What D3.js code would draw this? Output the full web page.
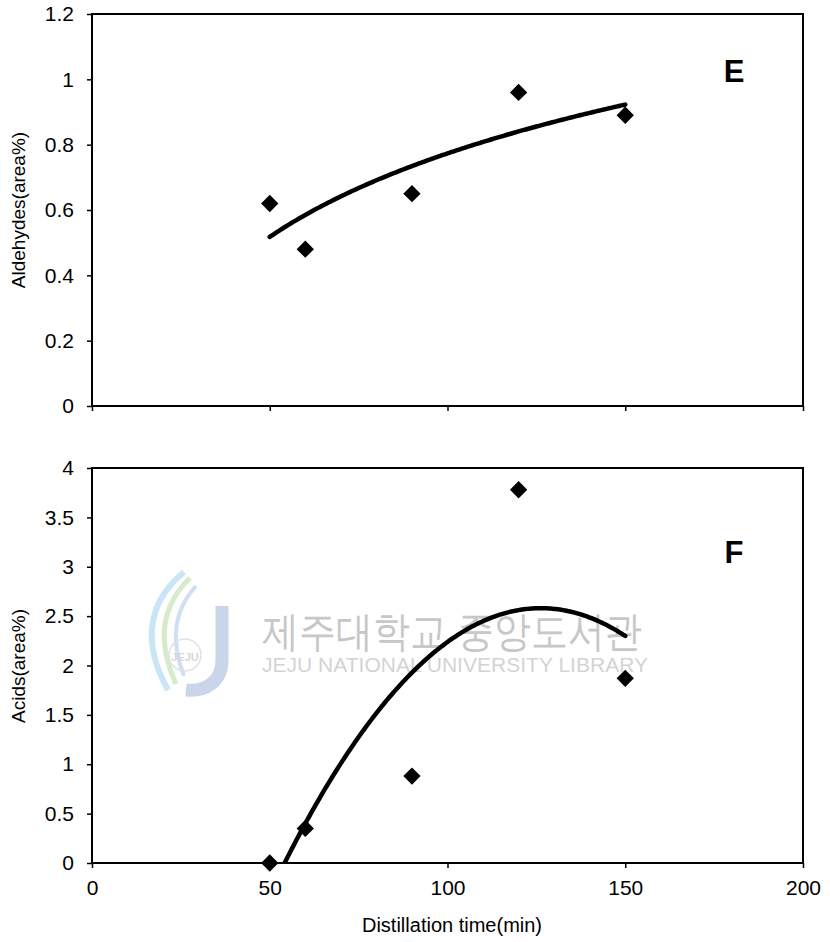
<!DOCTYPE html>
<html><head><meta charset="utf-8">
<script src="https://cdn.jsdelivr.net/npm/d3@7"></script>
<style>
html,body{margin:0;padding:0;background:#fff;}
svg text{font-family:"Liberation Sans",Arial,sans-serif;fill:#000;}
</style></head>
<body>
<svg id="chart" width="830" height="942"></svg>
<script>
// ---------- data ----------
const distillationTime = [50, 60, 90, 120, 150];
const aldehydes = [0.62, 0.48, 0.65, 0.96, 0.89];
const acids = [0.0, 0.35, 0.88, 3.78, 1.87];
const xTicks = [0, 50, 100, 150, 200];
const xTickLabels = ["0", "50", "100", "150", "200"];
const aldTicks = [0, 0.2, 0.4, 0.6, 0.8, 1.0, 1.2];
const aldTickLabels = ["0", "0.2", "0.4", "0.6", "0.8", "1", "1.2"];
const acidTicks = [0, 0.5, 1, 1.5, 2, 2.5, 3, 3.5, 4];
const acidTickLabels = ["0", "0.5", "1", "1.5", "2", "2.5", "3", "3.5", "4"];

// ---------- fits (least squares on the data) ----------
function logFit(xs, ys){
  const lx = xs.map(Math.log), n = xs.length;
  const mx = d3.mean(lx), my = d3.mean(ys);
  let sxy = 0, sxx = 0;
  lx.forEach((v,i)=>{ sxy += (v-mx)*(ys[i]-my); sxx += (v-mx)*(v-mx); });
  const a = sxy/sxx, b = my - a*mx;
  return x => a*Math.log(x) + b;
}
function quadFit(xs, ys){
  const n = xs.length;
  let S = [0,0,0,0,0], T = [0,0,0];
  xs.forEach((x,i)=>{ for(let k=0;k<5;k++) S[k]+=Math.pow(x,k); for(let k=0;k<3;k++) T[k]+=Math.pow(x,k)*ys[i]; });
  const M = [[S[0],S[1],S[2],T[0]],[S[1],S[2],S[3],T[1]],[S[2],S[3],S[4],T[2]]];
  for(let c=0;c<3;c++){
    for(let r=c+1;r<3;r++){ const f=M[r][c]/M[c][c]; for(let k=c;k<4;k++) M[r][k]-=f*M[c][k]; }
  }
  const coef=[0,0,0];
  for(let r=2;r>=0;r--){ let s=M[r][3]; for(let k=r+1;k<3;k++) s-=M[r][k]*coef[k]; coef[r]=s/M[r][r]; }
  return x => coef[0] + coef[1]*x + coef[2]*x*x;
}

const svg = d3.select("#chart");
const x = d3.scaleLinear().domain([0,200]).range([92,803]);
const xs = d3.range(50, 150.01, 0.5);

function panel(cfg){
  const y = d3.scaleLinear().domain(cfg.domain).range([cfg.bottom, cfg.top]);
  const g = svg.append("g");
  const clipId = "clip"+cfg.id;
  svg.append("clipPath").attr("id", clipId).append("rect")
    .attr("x", x(0)).attr("y", cfg.top).attr("width", x(200)-x(0)).attr("height", cfg.bottom-cfg.top);

  if (cfg.watermark) cfg.watermark(g);

  // y axis
  const ya = g.append("g").attr("transform", `translate(${x(0)},0)`)
    .call(d3.axisLeft(y).tickValues(cfg.ticks).tickSize(5).tickPadding(13)
      .tickFormat((d,i)=>cfg.tickLabels[i]));
  ya.select(".domain").remove();
  ya.selectAll("line").attr("stroke","#000").attr("stroke-width",1.5);
  ya.selectAll("text").attr("font-size",21).attr("font-family",'"Liberation Sans",Arial,sans-serif');

  // x axis
  const xa = g.append("g").attr("transform", `translate(0,${cfg.bottom})`)
    .call(d3.axisBottom(x).tickValues(xTicks).tickSize(5).tickPadding(12)
      .tickFormat((d,i)=> cfg.showX ? xTickLabels[i] : ""));
  xa.select(".domain").remove();
  xa.selectAll("line").attr("stroke","#000").attr("stroke-width",1.5);
  xa.selectAll("text").attr("font-size",21).attr("font-family",'"Liberation Sans",Arial,sans-serif');

  // frame
  g.append("rect").attr("x", x(0)).attr("y", cfg.top)
    .attr("width", x(200)-x(0)).attr("height", cfg.bottom-cfg.top)
    .attr("fill","none").attr("stroke","#000").attr("stroke-width",2);

  // trendline
  const f = cfg.fit(distillationTime, cfg.values);
  g.append("path").attr("clip-path", `url(#${clipId})`)
    .datum(xs.map(v=>[v, f(v)]))
    .attr("fill","none").attr("stroke","#000").attr("stroke-width",4.5)
    .attr("stroke-linecap","round").attr("stroke-linejoin","round")
    .attr("d", d3.line().x(d=>x(d[0])).y(d=>y(d[1])));

  // points
  g.selectAll("path.pt").data(distillationTime.map((t,i)=>[t,cfg.values[i]]))
    .join("path").attr("class","pt")
    .attr("transform", d=>`translate(${x(d[0])},${y(d[1])}) rotate(45)`)
    .attr("d", d3.symbol().type(d3.symbolSquare).size(150))
    .attr("fill","#000");

  // y title
  g.append("text").attr("transform", `translate(25,${cfg.titleY}) rotate(-90)`)
    .attr("text-anchor","middle").attr("font-size",19).text(cfg.title);

  // panel letter
  g.append("text").attr("x", 734).attr("y", cfg.letterY).attr("text-anchor","middle")
    .attr("font-size",31).attr("font-weight","bold").text(cfg.letter);
}

function watermark(g){
  const w = g.append("g").attr("opacity",0.55);
  // logo swooshes
  w.append("path").attr("d","M184,572 C150,600 140,640 168,690").attr("fill","none").attr("stroke","#9fd0ee").attr("stroke-width",6);
  w.append("path").attr("d","M190,578 C162,605 156,640 176,684").attr("fill","none").attr("stroke","#b6dca0").attr("stroke-width",5);
  w.append("path").attr("d","M196,586 C174,610 170,640 184,676").attr("fill","none").attr("stroke","#a8c8e8").attr("stroke-width",4);
  // J
  w.append("path").attr("d","M222,606 L222,660 C222,682 205,692 186,690").attr("fill","none").attr("stroke","#9fb4da").attr("stroke-width",13);
  w.append("circle").attr("cx",185).attr("cy",655).attr("r",16).attr("fill","none").attr("stroke","#c9c9c9").attr("stroke-width",1.5);
  w.append("text").attr("x",185).attr("y",661).attr("text-anchor","middle").attr("font-size",11).attr("font-weight","bold").style("fill","#b5b5b5").text("JEJU");
  // text
  w.append("text").attr("x",262).attr("y",646).attr("font-size",42)
    .attr("font-family",'"Noto Sans CJK KR",sans-serif').attr("textLength",380).attr("lengthAdjust","spacingAndGlyphs")
    .style("fill","#9a9a9a").text("제주대학교 중앙도서관");
  w.append("text").attr("x",262).attr("y",672).attr("font-size",21)
    .attr("textLength",386).attr("lengthAdjust","spacingAndGlyphs")
    .style("fill","#b0b0b0").text("JEJU NATIONAL UNIVERSITY  LIBRARY");
}

panel({id:"E", domain:[0,1.2], top:14, bottom:406, ticks:aldTicks, tickLabels:aldTickLabels,
  values:aldehydes, fit:logFit, showX:false, title:"Aldehydes(area%)", titleY:210, letter:"E", letterY:82});
panel({id:"F", domain:[0,4], top:468, bottom:863, ticks:acidTicks, tickLabels:acidTickLabels,
  values:acids, fit:quadFit, showX:true, title:"Acids(area%)", titleY:666, letter:"F", letterY:563, watermark});

svg.append("text").attr("x", 452).attr("y", 932).attr("text-anchor","middle")
  .attr("font-size",20).text("Distillation time(min)");
</script>
</body></html>
